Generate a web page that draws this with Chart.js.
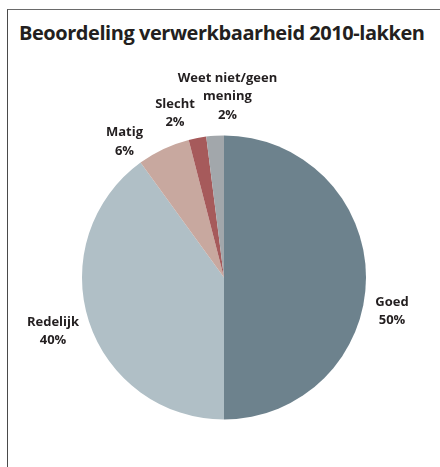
<!DOCTYPE html>
<html>
<head>
<meta charset="utf-8">
<script src="https://cdn.jsdelivr.net/npm/chart.js@4"></script>
<style>
  html, body { margin: 0; padding: 0; background: #fff; }
  #wrap { position: relative; width: 440px; height: 467px; overflow: hidden; }
  #frame { position: absolute; left: 7px; top: 9px; width: 460px; height: 480px;
           border-left: 1.5px solid #4a4a4a; border-top: 1.5px solid #6a6a6a; box-sizing: border-box; }
  #title { position: absolute; left: 19px; top: 19px; font-family: "Open Sans", sans-serif; font-weight: 700;
           font-size: 20px; color: #231f20; white-space: nowrap; letter-spacing: -0.45px; }
  canvas { position: absolute; left: 0; top: 0; }
</style>
</head>
<body>
<div id="wrap">
  <div id="frame"></div>
  <div id="title">Beoordeling verwerkbaarheid 2010-lakken</div>
  <canvas id="c" width="440" height="467"></canvas>
</div>
<script>
const categories = ["Goed", "Redelijk", "Matig", "Slecht", "Weet niet/geen mening"];
const labelLines = [["Goed"], ["Redelijk"], ["Matig"], ["Slecht"], ["Weet niet/geen", "mening"]];
const values = [50, 40, 6, 2, 2];
const colors = ["#6d828d", "#b0bfc6", "#c8a89f", "#a65a5b", "#a2a7ab"];

// label placement: angle (deg, 0 = right, clockwise) and distance as factor of radius
const labelAngles = [11.4, 162.6, -126.3, -106.6, -88.9];
const labelDist = [1.207, 1.262, 1.184, 1.208, 1.273];

const outsideLabels = {
  id: 'outsideLabels',
  afterDatasetsDraw(chart) {
    const ctx = chart.ctx;
    const meta = chart.getDatasetMeta(0);
    ctx.save();
    ctx.font = 'bold 13px "Open Sans", sans-serif';
    ctx.fillStyle = '#231f20';
    ctx.textAlign = 'center';
    ctx.textBaseline = 'middle';
    const lh = 18.5;
    meta.data.forEach((arc, i) => {
      const a = labelAngles[i] * Math.PI / 180;
      const r = arc.outerRadius * labelDist[i];
      const cx = arc.x + Math.cos(a) * r;
      const cy = arc.y + Math.sin(a) * r;
      const lines = labelLines[i].concat([values[i] + '%']);
      const y0 = cy - (lines.length - 1) * lh / 2;
      lines.forEach((t, k) => ctx.fillText(t, cx, y0 + k * lh));
    });
    ctx.restore();
  }
};

new Chart(document.getElementById('c'), {
  type: 'pie',
  data: {
    labels: categories,
    datasets: [{ data: values, backgroundColor: colors, borderWidth: 0 }]
  },
  options: {
    responsive: false,
    animation: false,
    layout: { padding: { left: 82, right: 74, top: 135.5, bottom: 47.5 } },
    plugins: { legend: { display: false }, tooltip: { enabled: false }, title: { display: false } }
  },
  plugins: [outsideLabels]
});
</script>
</body>
</html>
